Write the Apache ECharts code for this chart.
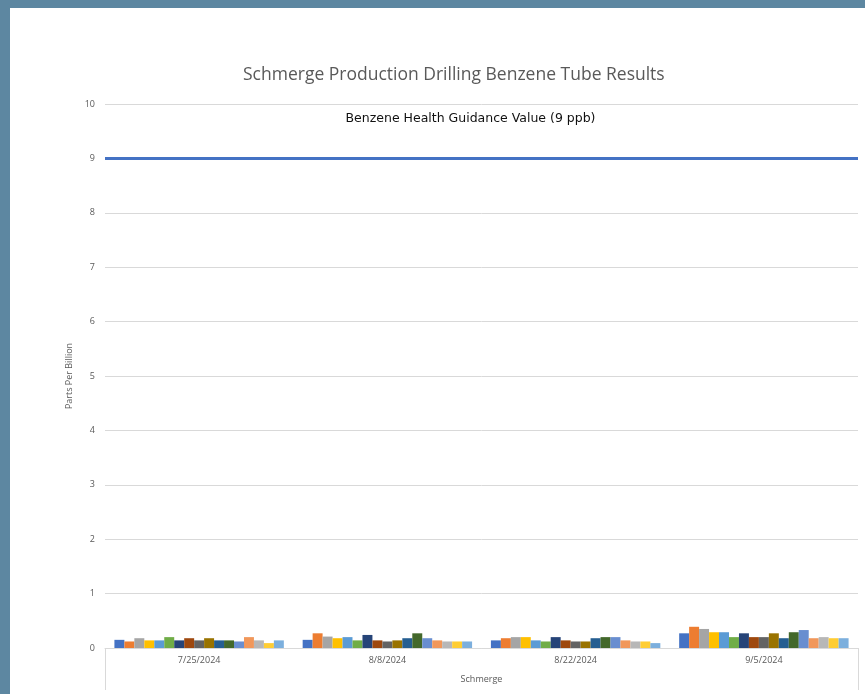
<!DOCTYPE html>
<html><head><meta charset="utf-8">
<script src="https://cdn.jsdelivr.net/npm/echarts@6/dist/echarts.min.js"></script>
<style>
html,body{margin:0;padding:0;width:865px;height:694px;background:#5d87a1;overflow:hidden;}
#c{position:absolute;left:10px;top:8px;width:855px;height:686px;background:#fff;}
</style></head>
<body><div id="c"></div>
<script>
const categories = ['7/25/2024','8/8/2024','8/22/2024','9/5/2024'];
const yTicks = [0,1,2,3,4,5,6,7,8,9,10];
const guidanceValue = 9;
const guidanceLabel = 'Benzene Health Guidance Value (9 ppb)';
const colors = ['#4472C4','#ED7D31','#A5A5A5','#FFC000','#5B9BD5','#70AD47','#264478','#9E480E','#636363','#997300','#255E91','#43682B','#698ED0','#F1975A','#B7B7B7','#FFCD33','#7CAFDD'];
// values per sample (17 tubes) for each date
const s1  = [0.15,0.15,0.14,0.27];
const s2  = [0.12,0.27,0.18,0.39];
const s3  = [0.18,0.21,0.20,0.35];
const s4  = [0.14,0.18,0.20,0.29];
const s5  = [0.14,0.20,0.14,0.29];
const s6  = [0.20,0.14,0.12,0.20];
const s7  = [0.14,0.24,0.20,0.27];
const s8  = [0.18,0.14,0.14,0.20];
const s9  = [0.14,0.12,0.12,0.20];
const s10 = [0.18,0.14,0.12,0.27];
const s11 = [0.14,0.18,0.18,0.18];
const s12 = [0.14,0.27,0.20,0.29];
const s13 = [0.12,0.18,0.20,0.33];
const s14 = [0.20,0.14,0.14,0.18];
const s15 = [0.14,0.12,0.12,0.20];
const s16 = [0.09,0.12,0.12,0.18];
const s17 = [0.14,0.12,0.09,0.18];
const seriesValues = [s1,s2,s3,s4,s5,s6,s7,s8,s9,s10,s11,s12,s13,s14,s15,s16,s17];

const series = seriesValues.map((vals, i) => {
  const s = {
    type: 'bar', name: 'Tube ' + (i+1), data: vals,
    barGap: '0%', barCategoryGap: '10%',
    itemStyle: { color: colors[i] }
  };
  if (i === 0) {
    s.markLine = {
      symbol: 'none', silent: true,
      lineStyle: { color: '#4472C4', width: 3, type: 'solid' },
      label: { show: true, position: 'middle', formatter: guidanceLabel, color: '#111', fontSize: 12.5,
        fontFamily: 'DejaVu Sans', distance: 33, padding: [0, 22, 0, 0] },
      data: [{ yAxis: guidanceValue }]
    };
  }
  return s;
});

const chart = echarts.init(document.getElementById('c'));
chart.setOption({
  animation: false,
  backgroundColor: '#fff',
  color: colors,
  title: { text: 'Schmerge Production Drilling Benzene Tube Results', left: 228, top: 53,
    textStyle: { color: '#595959', fontSize: 17.5, fontWeight: 'normal', fontFamily: 'Open Sans' } },
  grid: { left: 95, right: 7, top: 96, bottom: 46 },
  xAxis: [
    { type: 'category', data: categories, position: 'bottom',
      axisLine: { show: true, lineStyle: { color: '#d9d9d9' } },
      axisTick: { show: false },
      axisLabel: { color: '#595959', fontSize: 9, margin: 8, fontFamily: 'Open Sans' } },
    { type: 'category', data: ['Schmerge'], position: 'bottom',
      axisLine: { show: false },
      axisTick: { show: true, length: 42, lineStyle: { color: '#d9d9d9' } },
      axisLabel: { color: '#595959', fontSize: 9, margin: 27, fontFamily: 'Open Sans' } }
  ],
  yAxis: { type: 'value', min: 0, max: 10, interval: 1,
    name: 'Parts Per Billion', nameLocation: 'middle', nameGap: 30,
    nameTextStyle: { color: '#595959', fontSize: 9, fontFamily: 'Open Sans' },
    axisLine: { show: false }, axisTick: { show: false },
    axisLabel: { color: '#595959', fontSize: 9, margin: 10, fontFamily: 'Open Sans',
      formatter: v => yTicks.includes(v) ? String(v) : '' },
    splitLine: { lineStyle: { color: '#d9d9d9' } } },
  series: series
});
</script></body></html>
